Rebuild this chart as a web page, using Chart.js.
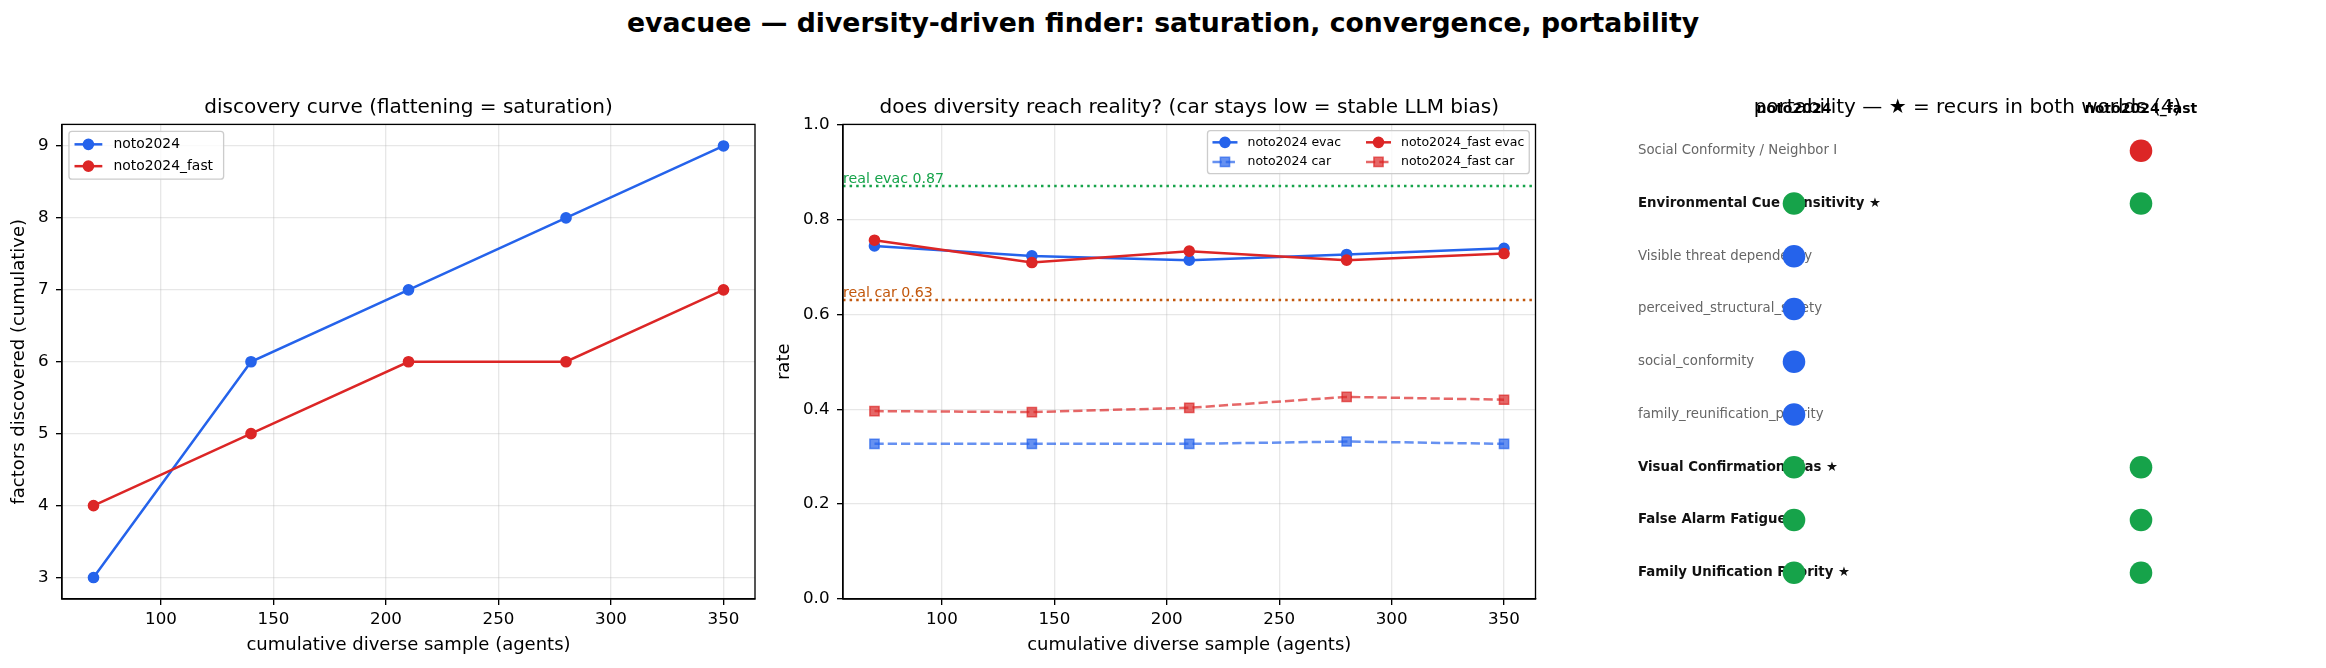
<!DOCTYPE html>
<html>
<head>
<meta charset="utf-8">
<title>evacuee — diversity-driven finder</title>
<script src="https://cdn.jsdelivr.net/npm/chart.js@4.4.1/dist/chart.umd.min.js"></script>
<style>
  html, body { margin: 0; padding: 0; background: #fff; }
  #fig { position: relative; width: 2326px; height: 668px; overflow: hidden; font-family: 'DejaVu Sans', sans-serif; }
  #suptitle { position: absolute; left: 0; top: 7px; width: 2326px; text-align: center;
              font-weight: bold; font-size: 26.7px; line-height: 32px; color: #000; }
  canvas { position: absolute; top: 0; }
</style>
</head>
<body>
<div id="fig">
  <div id="suptitle">evacuee — diversity-driven finder: saturation, convergence, portability</div>
  <canvas id="discovery" width="780" height="668" style="left:0px;width:780px;height:668px"></canvas>
  <canvas id="reality" width="800" height="668" style="left:760px;width:800px;height:668px"></canvas>
  <canvas id="portability" width="766" height="668" style="left:1560px;width:766px;height:668px"></canvas>
</div>
<script>
// ---- data ----
var sampleSizes = [70, 140, 210, 280, 350];
var xTicks = [100, 150, 200, 250, 300, 350];

// discovery curve (factors discovered, cumulative)
var discNoto = [3, 6, 7, 8, 9];
var discFast = [4, 5, 6, 6, 7];
var discTicks = [3, 4, 5, 6, 7, 8, 9];

// rates
var evacNoto = [0.744, 0.723, 0.714, 0.726, 0.739];
var evacFast = [0.756, 0.709, 0.733, 0.714, 0.728];
var carNoto = [0.327, 0.327, 0.327, 0.332, 0.327];
var carFast = [0.396, 0.394, 0.403, 0.426, 0.420];
var rateTicks = [0, 0.2, 0.4, 0.6, 0.8, 1.0];
var realNames = ['real evac', 'real car'];
var realValues = [0.87, 0.63];

// portability
var worlds = ['noto2024', 'noto2024_fast'];
var factorLabels = [
  'Social Conformity / Neighbor I',
  'Environmental Cue Sensitivity ★',
  'Visible threat dependency',
  'perceived_structural_safety',
  'social_conformity',
  'family_reunification_priority',
  'Visual Confirmation Bias ★',
  'False Alarm Fatigue',
  'Family Unification Priority ★'
];
var inNoto = [0, 1, 1, 1, 1, 1, 1, 1, 1];
var inFast = [1, 1, 0, 0, 0, 0, 1, 1, 1];

// ---- styling ----
var FONT = "'DejaVu Sans', sans-serif";
var BLUE = '#2563eb', RED = '#dc2626', GREEN = '#16a34a', ORANGE = '#c2570c';
var BLUE_A = 'rgba(37,99,235,0.7)', RED_A = 'rgba(220,38,38,0.7)';
var GRID = 'rgba(176,176,176,0.3)';
var LW = 1.33;
var XAXIS_H = 68.9;   // canvas bottom -> axes bottom

Chart.defaults.font.family = FONT;
Chart.defaults.color = '#000';
Chart.defaults.animation = false;

function points(ys) {
  return ys.map((y, i) => ({ x: sampleSizes[i], y: y }));
}

function panelTitle(text) {
  return { display: true, text: text, color: '#000', fullSize: false,
           font: { size: 20, weight: 'normal' }, padding: { top: 95.4, bottom: 5 } };
}

function sampleAxis() {
  return {
    type: 'linear', min: 56, max: 364,
    afterBuildTicks: s => { s.ticks = xTicks.map(v => ({ value: v })); },
    afterFit: s => { s.height = XAXIS_H; },
    grid: { color: GRID, lineWidth: LW, tickColor: '#000', tickWidth: LW, tickLength: 6 },
    border: { color: '#000', width: LW },
    ticks: { font: { size: 16.7 }, padding: 4.9, maxRotation: 0, autoSkip: false },
    title: { display: true, text: 'cumulative diverse sample (agents)', font: { size: 18 },
             padding: { top: 0, bottom: 11.7 } }
  };
}

function valueAxis(width, ticks, min, max, fmt, title, titlePad) {
  return {
    type: 'linear', min: min, max: max,
    afterBuildTicks: s => { s.ticks = ticks.map(v => ({ value: v })); },
    afterFit: s => { s.width = width; },
    grid: { color: GRID, lineWidth: LW, tickColor: '#000', tickWidth: LW, tickLength: 6 },
    border: { color: '#000', width: LW },
    ticks: { font: { size: 16.7 }, padding: 7.5, autoSkip: false, callback: fmt },
    title: { display: true, text: title, font: { size: 18 }, padding: { top: titlePad, bottom: 0 } }
  };
}

function series(label, ys, color, fill, opts) {
  return Object.assign({
    label: label, data: points(ys), borderColor: color, backgroundColor: fill,
    borderWidth: 2.5, pointStyle: 'circle', pointRadius: 5, pointBorderWidth: 1.67,
    pointBackgroundColor: fill, pointBorderColor: color, tension: 0
  }, opts || {});
}

// top + right spines
var frame = {
  id: 'frame',
  afterDatasetsDraw(chart) {
    var ctx = chart.ctx, a = chart.chartArea;
    ctx.save();
    ctx.strokeStyle = '#000';
    ctx.lineWidth = LW;
    ctx.strokeRect(a.left, a.top, a.right - a.left, a.bottom - a.top);
    ctx.restore();
  }
};

function drawMarker(ctx, style, r, x, y) {
  ctx.beginPath();
  if (style === 'rect') {
    var s = r * Math.SQRT1_2;
    ctx.rect(x - s, y - s, 2 * s, 2 * s);
  } else {
    ctx.arc(x, y, r, 0, Math.PI * 2);
  }
  ctx.fill();
  ctx.stroke();
}

// matplotlib-like legend box inside the axes
var mplLegend = {
  id: 'mplLegend',
  afterDraw(chart, args, o) {
    var ctx = chart.ctx, a = chart.chartArea;
    var ds = chart.data.datasets;
    var fs = o.fontSize, ncol = o.ncol || 1;
    var rows = Math.ceil(ds.length / ncol);
    var pad = 0.4 * fs, hl = 2 * fs, tp = 0.8 * fs, ls = 0.5 * fs, cs = 2 * fs, rh = 1.07 * fs;
    ctx.save();
    ctx.font = fs + 'px ' + FONT;
    var colW = [];
    for (var c = 0; c < ncol; c++) {
      var w = 0;
      for (var r = 0; r < rows; r++) {
        var d = ds[c * rows + r];
        if (d) w = Math.max(w, ctx.measureText(d.label).width);
      }
      colW.push(w);
    }
    var width = 2 * pad + colW.reduce((s, w) => s + hl + tp + w, 0) + cs * (ncol - 1) + (o.extraW || 0);
    var height = 2 * pad + rows * rh + (rows - 1) * ls;
    var x0 = o.loc === 'upper right' ? a.right - 0.5 * fs - width : a.left + 0.5 * fs;
    var y0 = a.top + 0.5 * fs;

    ctx.beginPath();
    ctx.roundRect(x0, y0, width, height, 3);
    ctx.fillStyle = 'rgba(255,255,255,0.8)';
    ctx.fill();
    ctx.strokeStyle = '#cccccc';
    ctx.lineWidth = 1.33;
    ctx.stroke();

    var cx = x0 + pad;
    for (var c = 0; c < ncol; c++) {
      for (var r = 0; r < rows; r++) {
        var d = ds[c * rows + r];
        if (!d) continue;
        var cy = y0 + pad + r * (rh + ls) + rh / 2;
        ctx.save();
        ctx.strokeStyle = d.borderColor;
        ctx.lineWidth = d.borderWidth;
        ctx.setLineDash(d.borderDash || []);
        ctx.beginPath();
        ctx.moveTo(cx, cy);
        ctx.lineTo(cx + hl, cy);
        ctx.stroke();
        ctx.setLineDash([]);
        ctx.fillStyle = d.pointBackgroundColor;
        ctx.strokeStyle = d.pointBorderColor;
        ctx.lineWidth = d.pointBorderWidth;
        drawMarker(ctx, d.pointStyle, d.pointRadius, cx + hl / 2, cy);
        ctx.restore();
        ctx.fillStyle = '#000';
        ctx.textBaseline = 'middle';
        ctx.textAlign = 'left';
        ctx.fillText(d.label, cx + hl + tp, cy);
      }
      cx += hl + tp + colW[c] + cs;
    }
    ctx.restore();
  }
};

// observed reference levels
var refLines = {
  id: 'refLines',
  beforeDatasetsDraw(chart) {
    var ctx = chart.ctx, a = chart.chartArea, y = chart.scales.y;
    var colors = [GREEN, ORANGE];
    realValues.forEach((v, i) => {
      var py = y.getPixelForValue(v);
      ctx.save();
      ctx.strokeStyle = colors[i];
      ctx.lineWidth = 2.5;
      ctx.setLineDash([2.5, 4.1]);
      ctx.beginPath();
      ctx.moveTo(a.left, py);
      ctx.lineTo(a.right, py);
      ctx.stroke();
      ctx.fillStyle = colors[i];
      ctx.font = '14.2px ' + FONT;
      ctx.textBaseline = 'alphabetic';
      ctx.textAlign = 'left';
      ctx.fillText(realNames[i] + ' ' + v.toFixed(2), a.left, py - 3);
      ctx.restore();
    });
  }
};

// ---- panel 1: discovery curve ----
new Chart(document.getElementById('discovery'), {
  type: 'line',
  data: {
    datasets: [
      series('noto2024', discNoto, BLUE, BLUE, { order: 0 }),
      series('noto2024_fast', discFast, RED, RED, { order: -1 })
    ]
  },
  options: {
    responsive: false,
    layout: { padding: { left: 0, right: 25, top: 0, bottom: 0 } },
    scales: {
      x: sampleAxis(),
      y: valueAxis(62, discTicks, 2.7, 9.3, v => String(v), 'factors discovered (cumulative)', 8.6)
    },
    plugins: {
      legend: { display: false },
      tooltip: { enabled: false },
      title: panelTitle('discovery curve (flattening = saturation)'),
      mplLegend: { loc: 'upper left', ncol: 1, fontSize: 13.9, extraW: 5 }
    }
  },
  plugins: [frame, mplLegend]
});

// ---- panel 2: rates vs reality ----
var dash = [9.25, 4];
new Chart(document.getElementById('reality'), {
  type: 'line',
  data: {
    datasets: [
      series('noto2024 evac', evacNoto, BLUE, BLUE, { order: 0 }),
      series('noto2024 car', carNoto, BLUE_A, BLUE_A,
             { order: -1, borderDash: dash, pointStyle: 'rect', pointRadius: 6.5, pointBorderWidth: 1.5 }),
      series('noto2024_fast evac', evacFast, RED, RED, { order: -2 }),
      series('noto2024_fast car', carFast, RED_A, RED_A,
             { order: -3, borderDash: dash, pointStyle: 'rect', pointRadius: 6.5, pointBorderWidth: 1.5 })
    ]
  },
  options: {
    responsive: false,
    layout: { padding: { left: 0, right: 24.5, top: 0, bottom: 0 } },
    scales: {
      x: sampleAxis(),
      y: valueAxis(83, rateTicks, 0, 1, v => v.toFixed(1), 'rate', 13.7)
    },
    plugins: {
      legend: { display: false },
      tooltip: { enabled: false },
      title: panelTitle('does diversity reach reality? (car stays low = stable LLM bias)'),
      mplLegend: { loc: 'upper right', ncol: 2, fontSize: 12.5 }
    }
  },
  plugins: [refLines, frame, mplLegend]
});

// ---- panel 3: portability matrix ----
function shared(i) { return inNoto[i] && inFast[i]; }
function dotColor(i) { return shared(i) ? GREEN : (inNoto[i] ? BLUE : RED); }

var presence = [inNoto, inFast].map((has, col) => {
  var pts = [], colors = [];
  has.forEach((h, i) => { if (h) { pts.push({ x: col, y: i }); colors.push(dotColor(i)); } });
  return { label: worlds[col], data: pts, pointBackgroundColor: colors,
           pointRadius: 11.3, pointBorderWidth: 0, pointHoverRadius: 11.3 };
});

new Chart(document.getElementById('portability'), {
  type: 'scatter',
  data: { datasets: presence },
  options: {
    responsive: false,
    layout: { padding: { left: 60.5, right: 11.5, top: 0, bottom: XAXIS_H } },
    scales: {
      x: {
        type: 'linear', position: 'top', min: -0.5, max: 1.5,
        afterBuildTicks: s => { s.ticks = worlds.map((w, i) => ({ value: i })); },
        afterFit: s => { s.height = 0; },
        grid: { display: false, drawTicks: false },
        border: { display: false },
        // mirrored so the labels are not clipped to the zero-height axis box
        ticks: { mirror: true, callback: v => worlds[v], font: { size: 14, weight: 'bold' },
                 padding: -23.3, autoSkip: false, maxRotation: 0 }
      },
      y: {
        type: 'linear', reverse: true, min: -0.5, max: 8.5,
        afterBuildTicks: s => { s.ticks = factorLabels.map((f, i) => ({ value: i })); },
        afterFit: s => { s.width = 0; },
        grid: { display: false, drawTicks: false },
        border: { display: false },
        ticks: {
          mirror: true, padding: 17.5, autoSkip: false,
          callback: v => factorLabels[v],
          font: ctx => ({ size: 13.3, weight: shared(ctx.index) ? 'bold' : 'normal' }),
          color: ctx => shared(ctx.index) ? '#111' : '#666'
        }
      }
    },
    plugins: {
      legend: { display: false },
      tooltip: { enabled: false },
      title: panelTitle('portability — ★ = recurs in both worlds (4)')
    }
  }
});
</script>
</body>
</html>
